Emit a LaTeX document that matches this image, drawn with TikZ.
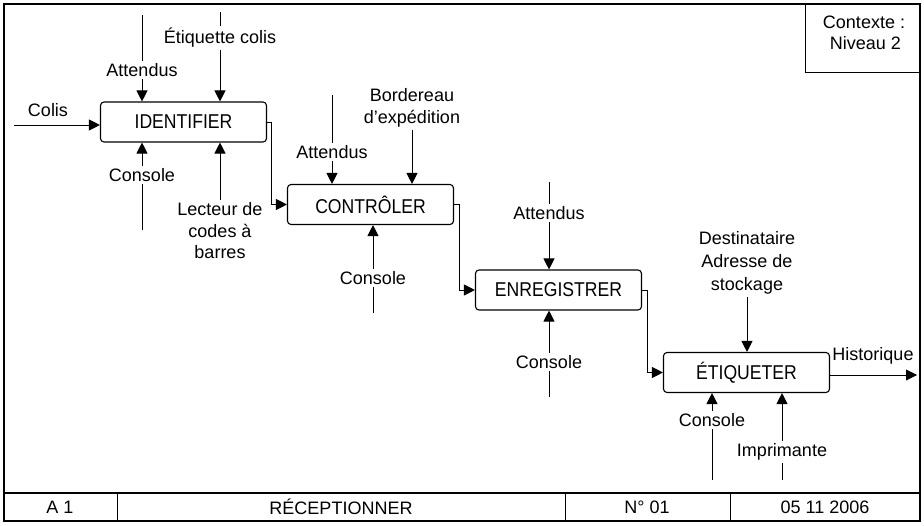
\documentclass[tikz,border=0pt]{standalone}
\usepackage{fontspec}
\setmainfont{Liberation Sans}
\newfontfamily\boxfont[FakeStretch=0.88]{Liberation Sans}
\usetikzlibrary{arrows.meta,calc}

\begin{document}
\begin{tikzpicture}[x=1pt, y=-1pt,
    font=\fontsize{18}{21.5}\selectfont,
    procbox/.style={draw, line width=1.1pt, rounded corners=3.5pt, minimum width=166pt, minimum height=40pt, inner sep=0pt, font=\boxfont\fontsize{20}{24}\selectfont},
    lbl/.style={inner sep=2.5pt, align=center},
    flow/.style={line width=0.9pt, -{Triangle[length=11pt,width=11pt]}},
    plain/.style={line width=0.9pt}]
  \useasboundingbox (0,0) rectangle (924,526);
  % frame and title strip
  \draw[line width=1.1pt] (4,4) rectangle (920,521);
  \draw[line width=1.1pt] (4,493) -- (920,493);
  \draw[line width=0.8pt] (117,493) -- (117,521) (565,493) -- (565,521) (730,493) -- (730,521);
  \draw[line width=0.9pt] (805,4) -- (805,72) -- (920,72);
  \node[lbl] (ctx) at (864,33) {Contexte :\\ \,Niveau 2};
  \node (code) at (60,507) {A 1};
  \node (titre) at (341,507) {RÉCEPTIONNER};
  \node (num) at (647,507) {N° 01};
  \node (date) at (825,507) {05 11 2006};

  % activities
  \node[procbox] (identifier) at (183.5,122) {IDENTIFIER};
  \node[procbox] (controler) at (370.5,204.5) {CONTRÔLER};
  \node[procbox] (enregistrer) at (558.5,290) {ENREGISTRER};
  \node[procbox] (etiqueter) at (746.5,372.5) {ÉTIQUETER};

  % IDENTIFIER
  \coordinate (colisin) at (14,125);
  \draw[flow] (colisin) -- (identifier.west |- colisin);
  \node[lbl] (colis) at (48,110) {Colis};
  \coordinate (att1top) at (142,15);
  \node[lbl] (att1) at (142,70) {Attendus};
  \draw[plain] (att1top) -- (att1);
  \draw[flow] (att1) -- (identifier.north -| att1);
  \coordinate (etiqtop) at (220,12);
  \node[lbl] (etiq) at (220,38) {Étiquette colis};
  \draw[plain] (etiqtop) -- (etiq);
  \draw[flow] (etiq) -- (identifier.north -| etiq);
  \coordinate (cons1bot) at (142,230);
  \node[lbl] (cons1) at (142,175) {Console};
  \draw[plain] (cons1bot) -- (cons1);
  \draw[flow] (cons1) -- (identifier.south -| cons1);
  \node[lbl] (lecteur) at (220,231) {Lecteur de\\codes à\\barres};
  \draw[flow] (lecteur) -- (identifier.south -| lecteur);
  \draw[flow] (identifier.east) -- ++(4,0) |- (controler.west);

  % CONTROLER
  \coordinate (att2top) at (332,95);
  \node[lbl] (att2) at (332,152) {Attendus};
  \draw[plain] (att2top) -- (att2);
  \draw[flow] (att2) -- (controler.north -| att2);
  \node[lbl] (bordereau) at (412,108) {Bordereau\\d'expédition};
  \draw[flow] (bordereau) -- (controler.north -| bordereau);
  \coordinate (cons2bot) at (373,313);
  \node[lbl] (cons2) at (373,278) {Console};
  \draw[plain] (cons2bot) -- (cons2);
  \draw[flow] (cons2) -- (controler.south -| cons2);
  \draw[flow] (controler.east) -- ++(5,0) |- (enregistrer.west);

  % ENREGISTRER
  \coordinate (att3top) at (549,182);
  \node[lbl] (att3) at (549,213) {Attendus};
  \draw[plain] (att3top) -- (att3);
  \draw[flow] (att3) -- (enregistrer.north -| att3);
  \coordinate (cons3bot) at (549,397);
  \node[lbl] (cons3) at (549,362) {Console};
  \draw[plain] (cons3bot) -- (cons3);
  \draw[flow] (cons3) -- (enregistrer.south -| cons3);
  \draw[flow] (enregistrer.east) -- ++(5,0) |- (etiqueter.west);

  % ETIQUETER
  \node[lbl, font=\fontsize{18}{23}\selectfont] (dest) at (747,263) {Destinataire\\Adresse de\\stockage};
  \draw[flow] (dest) -- (etiqueter.north -| dest);
  \coordinate (cons4bot) at (712,480);
  \node[lbl] (cons4) at (712,420) {Console};
  \draw[plain] (cons4bot) -- (cons4);
  \draw[flow] (cons4) -- (etiqueter.south -| cons4);
  \coordinate (imprbot) at (782,480);
  \node[lbl] (impr) at (782,452) {Imprimante};
  \draw[plain] (imprbot) -- (impr);
  \draw[flow] (impr) -- (etiqueter.south -| impr);
  \coordinate (histout) at (917,375);
  \draw[flow] (etiqueter.east |- histout) -- (histout);
  \node[lbl] (hist) at (873,356) {Historique};
\end{tikzpicture}
\end{document}
